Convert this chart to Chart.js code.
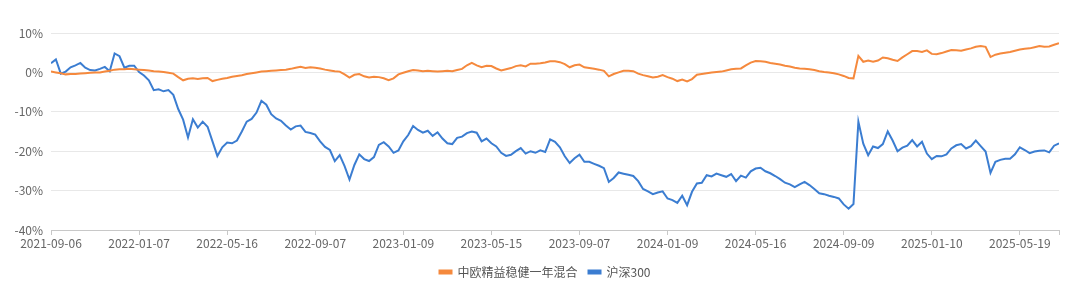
<!DOCTYPE html>
<html lang="zh-CN">
<head>
<meta charset="utf-8">
<title>中欧精益稳健一年混合 vs 沪深300</title>
<script src="https://cdn.jsdelivr.net/npm/chart.js@4.4.1/dist/chart.umd.min.js"></script>
<style>
  html, body { margin: 0; padding: 0; background: #fff; }
  .chart-wrap { position: relative; width: 1080px; height: 290px; }
</style>
</head>
<body>
<div class="chart-wrap"><canvas id="returnChart"></canvas></div>
<script>
// 累计收益率（%），从 2021-09-06 起按等间隔取样
const tickLabels = ['2021-09-06', '2022-01-07', '2022-05-16', '2022-09-07', '2023-01-09', '2023-05-15',
  '2023-09-07', '2024-01-09', '2024-05-16', '2024-09-09', '2025-01-10', '2025-05-19'];
const pointsPerTick = 18;

const seriesNames = ['中欧精益稳健一年混合', '沪深300'];
const seriesColors = ['#F5893D', '#3B7DD1'];

const fundReturn = [
  0.2, 0.0, -0.2, -0.5, -0.4, -0.4, -0.3, -0.2, -0.1, 0.0,
  0.0, 0.2, 0.4, 0.7, 0.8, 0.8, 0.9, 0.8, 0.7, 0.6,
  0.5, 0.3, 0.2, 0.1, -0.1, -0.3, -1.2, -2.0, -1.6, -1.5,
  -1.7, -1.5, -1.4, -2.2, -1.9, -1.6, -1.4, -1.1, -0.9, -0.7,
  -0.4, -0.2, 0.0, 0.2, 0.3, 0.4, 0.5, 0.6, 0.7, 0.9,
  1.2, 1.4, 1.1, 1.3, 1.2, 1.0, 0.7, 0.5, 0.3, 0.2,
  -0.5, -1.3, -0.6, -0.4, -1.0, -1.3, -1.1, -1.2, -1.5, -2.0,
  -1.5, -0.5, -0.1, 0.3, 0.6, 0.5, 0.3, 0.4, 0.3, 0.2,
  0.3, 0.4, 0.3, 0.6, 0.9, 1.8, 2.4, 1.8, 1.3, 1.7,
  1.6, 1.0, 0.5, 0.8, 1.1, 1.6, 1.8, 1.5, 2.2, 2.2,
  2.3, 2.5, 2.8, 2.8, 2.6, 2.1, 1.3, 1.8, 2.0, 1.3,
  1.1, 0.9, 0.7, 0.4, -1.0, -0.4, 0.0, 0.4, 0.4, 0.3,
  -0.3, -0.7, -1.0, -1.3, -1.1, -0.7, -1.2, -1.6, -2.2, -1.8,
  -2.3, -1.7, -0.6, -0.4, -0.2, 0.0, 0.1, 0.2, 0.5, 0.8,
  0.9, 1.0, 1.8, 2.5, 2.9, 2.8, 2.7, 2.4, 2.2, 2.0,
  1.7, 1.5, 1.2, 1.0, 0.9, 0.8, 0.6, 0.3, 0.1, 0.0,
  -0.2, -0.5, -0.9, -1.4, -1.5, 4.2, 2.7, 3.0, 2.7, 3.0,
  3.8, 3.6, 3.2, 2.9, 3.8, 4.6, 5.4, 5.4, 5.2, 5.6,
  4.7, 4.6, 4.9, 5.3, 5.7, 5.6, 5.5, 5.8, 6.1, 6.5,
  6.7, 6.5, 3.9, 4.5, 4.8, 5.0, 5.2, 5.5, 5.8, 6.0,
  6.1, 6.4, 6.7, 6.5, 6.6, 7.0, 7.4
];

const csi300Return = [
  2.3, 3.3, -0.3, 0.2, 1.3, 1.8, 2.4, 1.2, 0.6, 0.5,
  0.9, 1.4, 0.3, 4.8, 4.1, 1.2, 1.7, 1.7, 0.1, -0.8,
  -2.0, -4.5, -4.3, -4.8, -4.5, -5.7, -9.3, -12.0, -16.5, -11.9,
  -14.0, -12.5, -13.8, -17.5, -21.2, -19.0, -17.8, -18.0, -17.3, -15.0,
  -12.5, -11.8, -10.2, -7.2, -8.2, -10.6, -11.7, -12.3, -13.5, -14.5,
  -13.7, -13.5, -15.1, -15.4, -15.8, -17.5, -18.9, -19.7, -22.5, -21.0,
  -23.8, -27.2, -23.5, -20.8, -22.0, -22.5, -21.5, -18.4, -17.7, -18.8,
  -20.4, -19.8, -17.5, -15.9, -13.6, -14.6, -15.3, -14.8, -16.1, -15.2,
  -16.8, -18.0, -18.2, -16.6, -16.3, -15.4, -15.0, -15.3, -17.5, -16.8,
  -18.0, -18.8, -20.4, -21.2, -20.9, -20.0, -19.2, -20.6, -20.0, -20.4,
  -19.8, -20.2, -17.0, -17.6, -19.0, -21.3, -23.0, -21.8, -20.9, -22.7,
  -22.7, -23.2, -23.7, -24.3, -27.8, -26.8, -25.4, -25.7, -26.0, -26.3,
  -27.6, -29.6, -30.2, -30.9, -30.5, -30.2, -32.0, -32.4, -33.1, -31.3,
  -33.7, -30.3, -28.2, -28.0, -26.1, -26.4, -25.7, -26.1, -26.5, -25.8,
  -27.6, -26.2, -26.7, -25.1, -24.4, -24.2, -25.1, -25.6, -26.3, -27.1,
  -28.0, -28.4, -29.1, -28.4, -27.8, -28.6, -29.6, -30.7, -30.9, -31.3,
  -31.6, -32.0, -33.5, -34.6, -33.4, -12.5, -18.1, -21.0, -18.8, -19.2,
  -18.2, -15.0, -17.3, -20.0, -19.1, -18.6, -17.2, -18.8, -17.6, -20.6,
  -22.0, -21.2, -21.3, -20.8, -19.3, -18.5, -18.2, -19.3, -18.7, -17.3,
  -18.7, -20.1, -25.5, -22.7, -22.2, -21.9, -21.9, -20.8, -19.0, -19.7,
  -20.5, -20.1, -19.9, -19.8, -20.3, -18.6, -18.0
];

const yTicks = [10, 0, -10, -20, -30, -40];

document.addEventListener('DOMContentLoaded', () => {
  const ctx = document.getElementById('returnChart').getContext('2d');
  const lastIndex = fundReturn.length - 1;

  Chart.defaults.font.family = '"Noto Sans CJK SC", "Noto Sans", sans-serif';
  Chart.defaults.font.size = 12;
  Chart.defaults.color = '#666';

  const toPoints = (values) => values.map((v, i) => ({ x: i, y: v }));

  new Chart(ctx, {
    type: 'line',
    data: {
      datasets: [fundReturn, csi300Return].map((values, k) => ({
        label: seriesNames[k],
        data: toPoints(values),
        borderColor: seriesColors[k],
        backgroundColor: seriesColors[k],
        borderWidth: 2,
        pointRadius: 0,
        tension: 0
      }))
    },
    options: {
      responsive: true,
      maintainAspectRatio: false,
      animation: false,
      layout: { padding: { top: 33, right: 0, bottom: 2, left: 10 } },
      plugins: {
        legend: {
          position: 'bottom',
          labels: { boxWidth: 12, boxHeight: 3, padding: 11, color: '#555' }
        },
        tooltip: { enabled: false }
      },
      scales: {
        x: {
          type: 'linear',
          min: 0,
          max: lastIndex,
          afterBuildTicks: (axis) => {
            axis.ticks = tickLabels.map((_, k) => ({ value: k * pointsPerTick }));
            axis.ticks.push({ value: lastIndex });
          },
          afterFit: (axis) => { axis.height = 25; },
          ticks: {
            autoSkip: false,
            maxRotation: 0,
            padding: 1,
            callback: (value) => (value % pointsPerTick === 0 ? tickLabels[value / pointsPerTick] : '')
          },
          grid: { drawOnChartArea: false, drawTicks: true, tickLength: 5, color: '#c8c8c8' },
          border: { color: '#c8c8c8' }
        },
        y: {
          min: -40,
          max: 10,
          afterBuildTicks: (axis) => { axis.ticks = yTicks.map(v => ({ value: v })); },
          afterFit: (axis) => { axis.width = 41; },
          ticks: { padding: 8, callback: (value) => value + '%' },
          grid: { color: '#e8e8e8', drawTicks: false },
          border: { display: false }
        },
        // empty right-hand axis: only reserves the blank strip right of the plot
        yRight: {
          position: 'right',
          min: -40,
          max: 10,
          afterFit: (axis) => { axis.width = 21; },
          ticks: { display: false },
          grid: { display: false },
          border: { display: false }
        }
      }
    }
  });
});
</script>
</body>
</html>
